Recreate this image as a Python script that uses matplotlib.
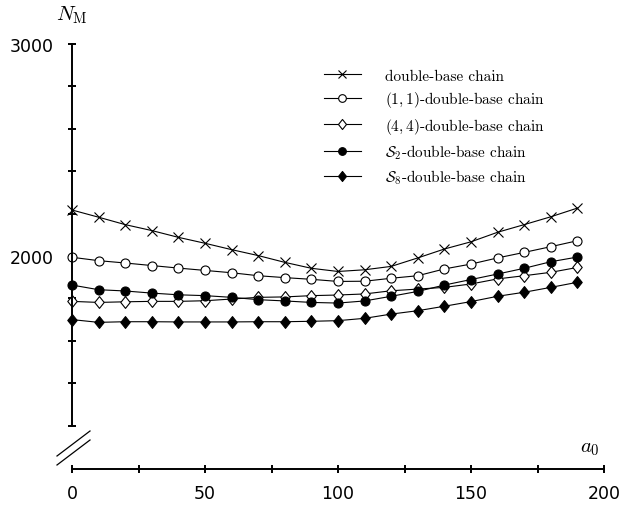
import numpy as np
import matplotlib.pyplot as plt
from matplotlib.lines import Line2D
from matplotlib.path import Path

plt.rcParams['mathtext.fontset'] = 'cm'

a0 = [0, 10, 20, 30, 40, 50, 60, 70, 80, 90,
      100, 110, 120, 130, 140, 150, 160, 170, 180, 190]

dbc = [2217, 2183, 2148, 2120, 2088, 2060, 2030, 2002, 1970, 1942,
       1927, 1935, 1951, 1991, 2033, 2067, 2112, 2148, 2185, 2226]
dbc11 = [1994, 1978, 1967, 1955, 1943, 1932, 1921, 1907, 1898, 1890,
         1880, 1881, 1895, 1907, 1939, 1962, 1991, 2017, 2044, 2072]
dbc44 = [1786, 1781, 1784, 1786, 1786, 1789, 1797, 1805, 1807, 1813,
         1816, 1821, 1836, 1844, 1852, 1868, 1892, 1907, 1923, 1946]
s2 = [1863, 1841, 1835, 1825, 1817, 1813, 1805, 1794, 1788, 1781,
      1778, 1788, 1810, 1833, 1863, 1889, 1915, 1942, 1973, 1995]
s8 = [1700, 1687, 1690, 1690, 1689, 1689, 1689, 1690, 1690, 1692,
      1695, 1706, 1726, 1742, 1763, 1785, 1810, 1829, 1852, 1876]

labels = ['double-base chain', '$(1,1)$-double-base chain', '$(4,4)$-double-base chain',
          r'$\mathcal{S}_2$-double-base chain', r'$\mathcal{S}_8$-double-base chain']

# slightly tall diamond
diamond = Path([(0, 1), (0.8, 0), (0, -1), (-0.8, 0), (0, 1)],
               [Path.MOVETO, Path.LINETO, Path.LINETO, Path.LINETO, Path.CLOSEPOLY])

W, H = 623, 510
fig = plt.figure(figsize=(W / 100, H / 100), dpi=100)
x0, x1, ytop, ybot = 72, 604, 45, 470
ax = fig.add_axes([x0 / W, 1 - ybot / H, (x1 - x0) / W, (ybot - ytop) / H])
ymin = 3000 - (ybot - ytop) / 0.212
ax.set_xlim(0, 200)
ax.set_ylim(ymin, 3000)

lw = 0.8
ax.plot(a0, dbc, color='black', lw=lw, marker='x', ms=6.5, mew=0.8, clip_on=False)
ax.plot(a0, dbc11, color='black', lw=lw, marker='o', ms=6.5, mfc='white', mew=0.8, clip_on=False)
ax.plot(a0, dbc44, color='black', lw=lw, marker=diamond, ms=8.5, mfc='white', mew=0.8, clip_on=False)
ax.plot(a0, s2, color='black', lw=lw, marker='o', ms=6.5, mfc='black', mew=0.8, clip_on=False)
ax.plot(a0, s8, color='black', lw=lw, marker=diamond, ms=8.5, mfc='black', mew=0.8, clip_on=False)

for s in ['top', 'right']:
    ax.spines[s].set_visible(False)
ax.spines['left'].set_bounds(1200, 3000)
ax.spines['left'].set_linewidth(1.4)
ax.spines['bottom'].set_linewidth(1.4)

ax.set_yticks([2000, 3000])
ax.set_yticks(np.arange(1200, 3001, 200), minor=True)
ax.set_xticks([0, 50, 100, 150, 200])
ax.set_xticks(np.arange(0, 201, 25), minor=True)
ax.tick_params(which='both', direction='inout', length=6, width=1.4)
ax.tick_params(axis='y', pad=10)
ax.tick_params(axis='x', pad=8)
for lab in ax.get_xticklabels() + ax.get_yticklabels():
    lab.set_fontfamily('DejaVu Sans')
    lab.set_fontsize(12.5)

# axis break marks
for dy in (0, 9):
    fig.add_artist(Line2D([57 / W, 90 / W], [1 - (466 - dy) / H, 1 - (441 - dy) / H],
                          color='black', lw=0.9))

fig.text(72 / W, 1 - 15 / H, r'$N_{\rm M}$', ha='center', va='center', fontsize=15)
fig.text(590 / W, 1 - 448 / H, r'$a_0$', ha='center', va='center', fontsize=15)

handles = ax.get_lines()
leg = fig.legend(handles, labels, loc='upper left', bbox_to_anchor=(324 / W, 1 - 70 / H),
                 frameon=False, borderaxespad=0, borderpad=0, handlelength=2.4,
                 handletextpad=1.6, labelspacing=0.42, markerscale=0.85,
                 prop={'family': 'cmr10', 'size': 11})

fig.savefig('out.png', dpi=100)
